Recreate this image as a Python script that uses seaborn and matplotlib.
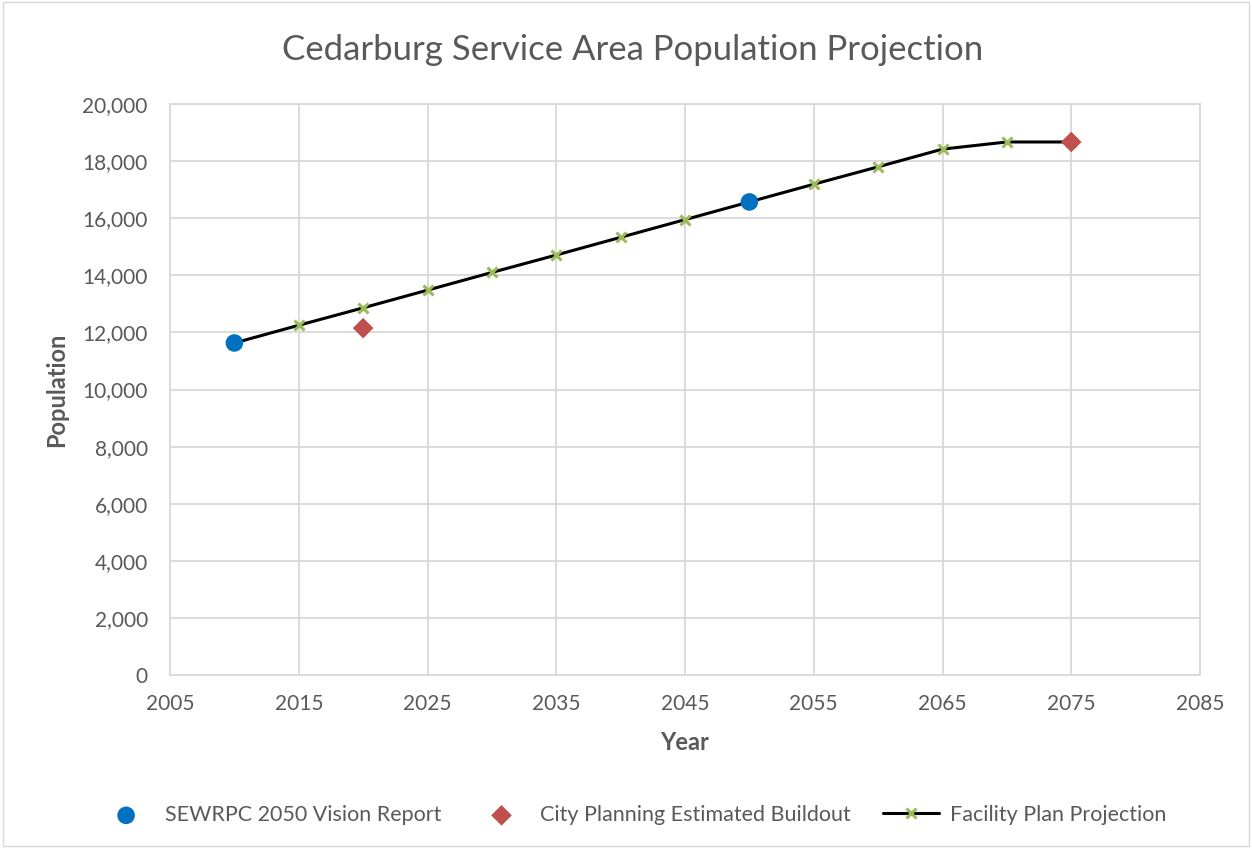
import numpy as np
import pandas as pd
import matplotlib
matplotlib.use('Agg')
import matplotlib.pyplot as plt
import seaborn as sns
from matplotlib.ticker import FuncFormatter, MultipleLocator, FixedLocator

# Datos
sewrpc_years = [2010, 2050]
sewrpc_pop = [11630, 16570]

city_years = [2020, 2075]
city_pop = [12150, 18670]

facility_years = [2010, 2015, 2020, 2025, 2030, 2035, 2040, 2045,
                  2050, 2055, 2060, 2065, 2070, 2075]
facility_pop = [11630, 12250, 12860, 13480, 14100, 14710, 15330, 15950,
                16570, 17190, 17800, 18420, 18670, 18670]

x_ticks = [2005, 2015, 2025, 2035, 2045, 2055, 2065, 2075, 2085]

sns.set_theme(style='white')
plt.rcParams['font.family'] = ['Lato', 'DejaVu Sans']
text_gray = '#595959'
grid_gray = '#d9d9d9'

fig = plt.figure(figsize=(12.52, 8.48), dpi=100)
ax = fig.add_axes([170 / 1252, 1 - 675 / 848, 1030 / 1252, 571 / 848])

df_fac = pd.DataFrame({'year': facility_years, 'pop': facility_pop})
df_sew = pd.DataFrame({'year': sewrpc_years, 'pop': sewrpc_pop})
df_city = pd.DataFrame({'year': city_years, 'pop': city_pop})

sns.lineplot(data=df_fac, x='year', y='pop', ax=ax, color='black', lw=2.2,
             marker='x', markersize=7, markeredgewidth=2.2,
             markeredgecolor='#9BBB59', label='Facility Plan Projection', zorder=3)
sns.scatterplot(data=df_sew, x='year', y='pop', ax=ax, color='#0070C0', s=160,
                marker='o', edgecolor='none', label='SEWRPC 2050 Vision Report', zorder=4)
sns.scatterplot(data=df_city, x='year', y='pop', ax=ax, color='#C0504D', s=110,
                marker='D', edgecolor='none', label='City Planning Estimated Buildout', zorder=4)

ax.set_xlim(2005, 2085)
ax.set_ylim(0, 20000)
ax.xaxis.set_major_locator(FixedLocator(x_ticks))
ax.yaxis.set_major_locator(MultipleLocator(2000))
ax.yaxis.set_major_formatter(FuncFormatter(lambda v, p: f'{int(v):,}'))
ax.grid(True, color=grid_gray, lw=1.3)
ax.set_axisbelow(True)
for s in ax.spines.values():
    s.set_color(grid_gray)
    s.set_linewidth(1.3)
ax.tick_params(axis='both', labelsize=15, colors=text_gray, length=0)
ax.tick_params(axis='y', pad=16)
ax.tick_params(axis='x', pad=14)

ax.set_xlabel('Year', fontsize=17, fontweight='bold', color=text_gray, labelpad=12)
ax.set_ylabel('Population', fontsize=17, fontweight='bold', color=text_gray, labelpad=10)
fig.text(0.505, 1 - 50 / 848, 'Cedarburg Service Area Population Projection',
         ha='center', va='center', fontsize=25, color=text_gray)

handles, labels = ax.get_legend_handles_labels()
order = [1, 2, 0]
ax.get_legend().remove()
fig.legend([handles[i] for i in order], [labels[i] for i in order],
           loc='center', bbox_to_anchor=(0.505, 1 - 815 / 848), ncol=3,
           frameon=False, fontsize=15.5, labelcolor=text_gray,
           columnspacing=1.5, handletextpad=0.5, handlelength=2.6)

# borde del grafico
fig.patches.append(plt.Rectangle((0.002, 0.002), 0.996, 0.996, transform=fig.transFigure,
                                 fill=False, edgecolor=grid_gray, lw=1))

plt.savefig('out.png', dpi=100)
